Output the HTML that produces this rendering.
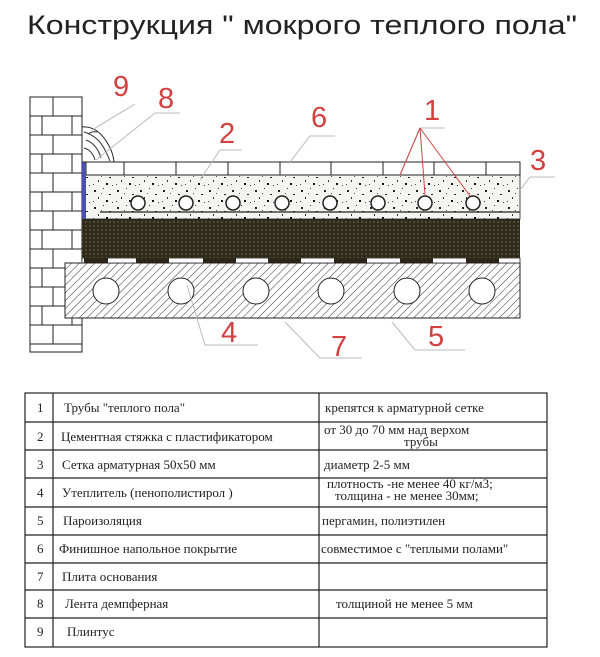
<!DOCTYPE html>
<html><head><meta charset="utf-8"><style>
html,body{margin:0;padding:0;background:#fff;}
svg{display:block;}
</style></head><body>
<svg width="600" height="657" viewBox="0 0 600 657" xmlns="http://www.w3.org/2000/svg">
<defs>
<pattern id="hatch" width="5.5" height="5.5" patternUnits="userSpaceOnUse" patternTransform="rotate(45)">
<rect width="5.5" height="5.5" fill="#fff"/><line x1="0" y1="0" x2="0" y2="5.5" stroke="#333" stroke-width="1"/>
</pattern>
<pattern id="dots" width="4" height="4" patternUnits="userSpaceOnUse">
<rect width="4" height="4" fill="#2e2a1c"/><circle cx="2" cy="2" r="0.9" fill="#6b5f3a"/>
</pattern>
<pattern id="speck" width="23" height="17" patternUnits="userSpaceOnUse">
<rect width="23" height="17" fill="#f4f4f0"/>
<rect x="2" y="3" width="2" height="2" fill="#222"/><rect x="11" y="1" width="1" height="1" fill="#333"/>
<rect x="17" y="7" width="2" height="1" fill="#222"/><rect x="6" y="10" width="1" height="2" fill="#333"/>
<rect x="14" y="13" width="2" height="2" fill="#111"/><rect x="20" y="15" width="1" height="1" fill="#444"/>
<rect x="9" y="6" width="1" height="1" fill="#555"/><rect x="1" y="14" width="1" height="1" fill="#444"/>
</pattern>
</defs>
<text x="27" y="34" font-family="Liberation Sans, sans-serif" font-size="27" fill="#222" textLength="550" lengthAdjust="spacingAndGlyphs">Конструкция " мокрого теплого пола"</text>

<g stroke="#222" stroke-width="1" fill="#fff">
<rect x="30" y="97" width="52" height="255"/>
<line x1="30" y1="116" x2="82" y2="116"/><line x1="30" y1="135" x2="82" y2="135"/>
<line x1="53" y1="97" x2="53" y2="116"/><line x1="42" y1="116" x2="42" y2="135"/><line x1="72" y1="116" x2="72" y2="135"/>
<line x1="53" y1="135" x2="53" y2="154"/>
<line x1="30" y1="154" x2="82" y2="154"/><line x1="30" y1="173" x2="82" y2="173"/><line x1="30" y1="192" x2="82" y2="192"/>
<line x1="30" y1="211" x2="82" y2="211"/><line x1="30" y1="230" x2="82" y2="230"/><line x1="30" y1="249" x2="82" y2="249"/>
<line x1="30" y1="268" x2="82" y2="268"/><line x1="30" y1="287" x2="82" y2="287"/><line x1="30" y1="306" x2="82" y2="306"/>
<line x1="30" y1="325" x2="82" y2="325"/><line x1="30" y1="344" x2="82" y2="344"/>
<line x1="42" y1="154" x2="42" y2="173"/><line x1="72" y1="154" x2="72" y2="173"/><line x1="53" y1="173" x2="53" y2="192"/>
<line x1="42" y1="192" x2="42" y2="211"/><line x1="72" y1="192" x2="72" y2="211"/><line x1="53" y1="211" x2="53" y2="230"/>
<line x1="42" y1="230" x2="42" y2="249"/><line x1="72" y1="230" x2="72" y2="249"/><line x1="53" y1="249" x2="53" y2="268"/>
<line x1="42" y1="268" x2="42" y2="287"/><line x1="72" y1="268" x2="72" y2="287"/><line x1="53" y1="287" x2="53" y2="306"/>
<line x1="42" y1="306" x2="42" y2="325"/><line x1="72" y1="306" x2="72" y2="325"/><line x1="53" y1="325" x2="53" y2="344"/>
</g>

<rect x="65" y="263" width="455" height="55" fill="url(#hatch)" stroke="#222"/>
<g fill="#fff" stroke="#222">
<circle cx="106" cy="291" r="13"/><circle cx="181" cy="291" r="13"/><circle cx="256" cy="291" r="13"/>
<circle cx="331" cy="291" r="13"/><circle cx="407" cy="291" r="13"/><circle cx="482" cy="291" r="13"/>
</g>
<rect x="82" y="258" width="438" height="5" fill="#fff" stroke="#222" stroke-width="0.8"/>
<g fill="#2a2518">
<rect x="84" y="258" width="24" height="5"/><rect x="136" y="258" width="33" height="5"/><rect x="203" y="258" width="33" height="5"/>
<rect x="268" y="258" width="33" height="5"/><rect x="334" y="258" width="33" height="5"/><rect x="400" y="258" width="33" height="5"/><rect x="466" y="258" width="33" height="5"/>
</g>
<rect x="82" y="219" width="438" height="39" fill="url(#dots)"/>
<rect x="82" y="175" width="438" height="44" fill="url(#speck)" stroke="#222" stroke-width="0.8"/>
<line x1="100" y1="212" x2="520" y2="212" stroke="#222" stroke-width="1.2"/>
<g fill="#fff" stroke="#222" stroke-width="1.5">
<circle cx="138" cy="203" r="7"/><circle cx="186" cy="203" r="7"/><circle cx="233" cy="203" r="7"/><circle cx="282" cy="203" r="7"/>
<circle cx="330" cy="203" r="7"/><circle cx="378" cy="203" r="7"/><circle cx="425" cy="203" r="7"/><circle cx="473" cy="203" r="7"/>
</g>
<rect x="86" y="162" width="434" height="13" fill="#fff" stroke="#222"/>
<g stroke="#222">
<line x1="124" y1="162" x2="124" y2="175"/><line x1="176" y1="162" x2="176" y2="175"/><line x1="228" y1="162" x2="228" y2="175"/>
<line x1="280" y1="162" x2="280" y2="175"/><line x1="331" y1="162" x2="331" y2="175"/><line x1="383" y1="162" x2="383" y2="175"/>
<line x1="434" y1="162" x2="434" y2="175"/><line x1="486" y1="162" x2="486" y2="175"/>
</g>
<rect x="82" y="157" width="4" height="62" fill="#4a4fb0"/>
<path d="M82 127 Q95 126 104 138 Q113 150 114 162 L82 162 Z" fill="#fff" stroke="#222"/>
<path d="M84 132 Q98 136 105 150 Q108 156 110 161 M86 140 Q97 144 101 158 M84 148 Q92 150 95 160 M88 134 Q92 131 97 132" fill="none" stroke="#333"/>

<g stroke="#bbb" stroke-width="1" fill="none">
<path d="M135 104 L92 130"/><path d="M180 113 L155 113 L96 160"/>
<path d="M242 150 L220 150 L200 180"/><path d="M335 136 L310 136 L290 162"/>
<path d="M445 128 L420 128 L400 175"/><path d="M555 177 L530 177 L520 190"/>
<path d="M187 285 L205 345 L258 345"/><path d="M285 322 L320 358 L362 358"/><path d="M392 322 L415 350 L465 350"/>
</g>
<g stroke="#c44" stroke-width="1" fill="none">
<path d="M420 128 L425 195"/><path d="M420 128 L470 196"/><path d="M420 128 L400 175"/>
</g>
<g font-family="Liberation Sans, sans-serif" font-size="29" fill="#d24040">
<text x="113" y="96">9</text><text x="158" y="108">8</text><text x="219" y="143">2</text>
<text x="311" y="127">6</text><text x="424" y="120">1</text><text x="530" y="170">3</text>
<text x="221" y="342">4</text><text x="331" y="356">7</text><text x="428" y="346">5</text>
</g>

<g stroke="#222" stroke-width="1.2" fill="none">
<rect x="25" y="393" width="522" height="254"/>
<line x1="53" y1="393" x2="53" y2="647"/><line x1="319" y1="393" x2="319" y2="647"/>
<line x1="25" y1="422" x2="547" y2="422"/><line x1="25" y1="450" x2="547" y2="450"/><line x1="25" y1="478" x2="547" y2="478"/>
<line x1="25" y1="507" x2="547" y2="507"/><line x1="25" y1="535" x2="547" y2="535"/><line x1="25" y1="563" x2="547" y2="563"/>
<line x1="25" y1="590" x2="547" y2="590"/><line x1="25" y1="618" x2="547" y2="618"/>
</g>
<g font-family="Liberation Serif, serif" font-size="13" fill="#222">
<text x="37" y="412">1</text><text x="37" y="441">2</text><text x="37" y="469">3</text><text x="37" y="497">4</text>
<text x="37" y="525">5</text><text x="37" y="553">6</text><text x="37" y="581">7</text><text x="37" y="608">8</text><text x="37" y="636">9</text>
<text x="64" y="412">Трубы  "теплого пола"</text>
<text x="61" y="441">Цементная стяжка с пластификатором</text>
<text x="62" y="469">Сетка арматурная 50х50 мм</text>
<text x="62" y="497">Утеплитель (пенополистирол    )</text>
<text x="63" y="525">Пароизоляция</text>
<text x="59" y="553">Финишное напольное покрытие</text>
<text x="62" y="581">Плита основания</text>
<text x="65" y="608">Лента демпферная</text>
<text x="67" y="636">Плинтус</text>
<text x="325" y="412">крепятся к арматурной сетке</text>
<text x="324" y="434">от 30 до 70 мм над верхом</text>
<text x="404" y="446">трубы</text>
<text x="324" y="469">диаметр 2-5 мм</text>
<text x="327" y="488">плотность -не менее 40 кг/м3;</text>
<text x="335" y="500">толщина - не менее 30мм;</text>
<text x="322" y="525">пергамин, полиэтилен</text>
<text x="321" y="553">совместимое с "теплыми полами"</text>
<text x="336" y="608">толщиной не менее 5 мм</text>
</g>
</svg>
</body></html>
